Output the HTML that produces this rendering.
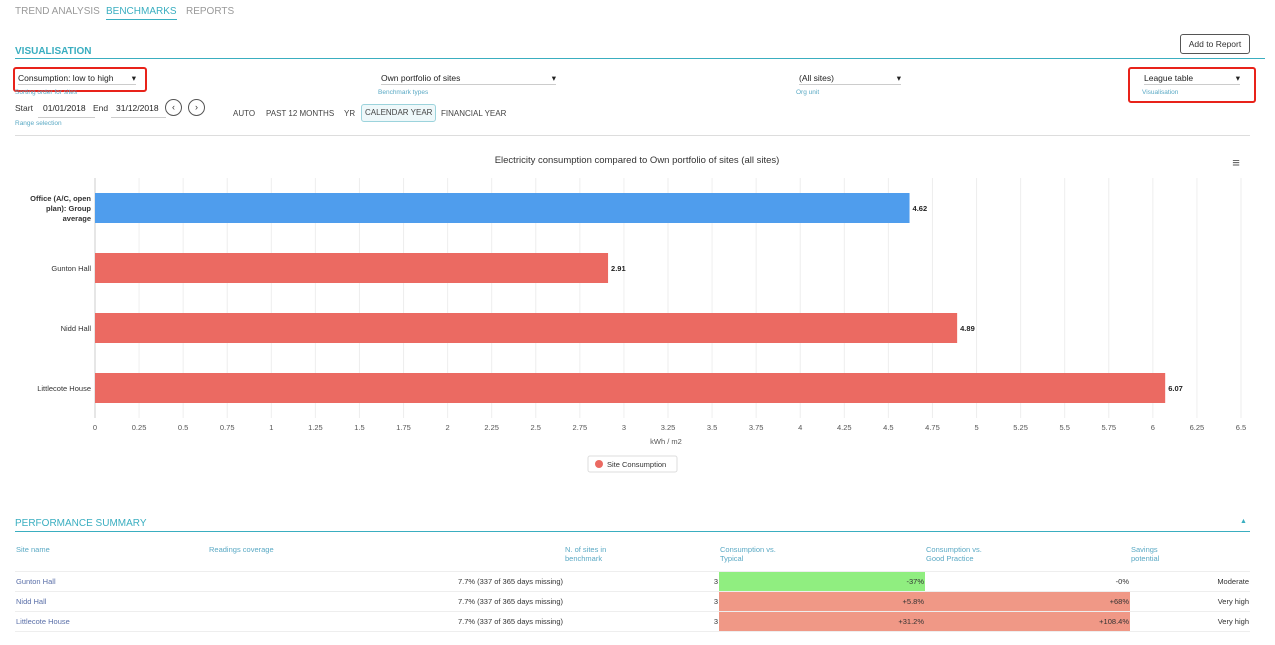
<!DOCTYPE html>
<html><head><meta charset="utf-8"><style>
body{margin:0;width:1275px;height:645px;background:#fff;font-family:"Liberation Sans",sans-serif;position:relative;overflow:hidden;color:#333}
.a{position:absolute;white-space:nowrap}
.tab{font-size:10px;color:#999;top:6px}
.sec{font-size:10px;color:#3aaec0;font-weight:bold}
.lbl{font-size:6.5px;color:#5aa9c4}
.sel{font-size:8.5px;color:#222;border-bottom:1px solid #ccc}
.red{border:2px solid #e8231a;border-radius:3px;position:absolute}
table{border-collapse:collapse;font-size:7.5px;table-layout:fixed}
td{padding:0 1px}
</style></head><body>
<div class="a tab" style="left:15px">TREND ANALYSIS</div>
<div class="a tab" style="left:106px;color:#3aaec0;border-bottom:1.5px solid #3aaec0;padding-bottom:2px">BENCHMARKS</div>
<div class="a tab" style="left:186px">REPORTS</div>
<div class="a sec" style="left:15px;top:46px">VISUALISATION</div>
<div class="a" style="left:15px;top:58px;width:1250px;border-top:1px solid #3aaec0"></div>
<div class="a" style="left:1180px;top:34px;width:68px;height:18px;border:1px solid #555;border-radius:3px;font-size:8.5px;text-align:center;line-height:18px">Add to Report</div>
<div class="red" style="left:13px;top:67px;width:130px;height:21px"></div>
<div class="a sel" style="left:18px;top:73px;width:118px">Consumption: low to high<span style="float:right">▾</span></div>
<div class="a lbl" style="left:15px;top:89px">Sorting order for sites</div>
<div class="a sel" style="left:381px;top:73px;width:175px">Own portfolio of sites<span style="float:right">▾</span></div>
<div class="a lbl" style="left:378px;top:89px">Benchmark types</div>
<div class="a sel" style="left:799px;top:73px;width:102px">(All sites)<span style="float:right">▾</span></div>
<div class="a lbl" style="left:796px;top:89px">Org unit</div>
<div class="red" style="left:1128px;top:67px;width:124px;height:32px"></div>
<div class="a sel" style="left:1144px;top:73px;width:96px">League table<span style="float:right">▾</span></div>
<div class="a lbl" style="left:1142px;top:89px">Visualisation</div>
<div class="a" style="left:15px;top:103px;font-size:8.5px">Start</div>
<div class="a sel" style="left:38px;top:103px;width:52px;padding-left:5px;padding-bottom:4px">01/01/2018</div>
<div class="a" style="left:93px;top:103px;font-size:8.5px">End</div>
<div class="a sel" style="left:111px;top:103px;width:50px;padding-left:5px;padding-bottom:4px">31/12/2018</div>
<div class="a" style="left:165px;top:99px;width:15px;height:15px;border:1px solid #555;border-radius:50%;font-size:9px;text-align:center;line-height:15px">‹</div>
<div class="a" style="left:188px;top:99px;width:15px;height:15px;border:1px solid #555;border-radius:50%;font-size:9px;text-align:center;line-height:15px">›</div>
<div class="a lbl" style="left:15px;top:120px">Range selection</div>
<div class="a" style="left:233px;top:109px;font-size:8px;color:#444">AUTO</div>
<div class="a" style="left:266px;top:109px;font-size:8px;color:#444">PAST 12 MONTHS</div>
<div class="a" style="left:344px;top:109px;font-size:8px;color:#444">YR</div>
<div class="a" style="left:361px;top:104px;height:16px;line-height:16px;padding:0 3px;border:1px solid #9cd3dc;border-radius:3px;background:#eef8fa;font-size:8px;color:#444">CALENDAR YEAR</div>
<div class="a" style="left:441px;top:109px;font-size:8px;color:#444">FINANCIAL YEAR</div>
<div class="a" style="left:15px;top:135px;width:1235px;border-top:1px solid #ddd"></div>

<svg id="chart" class="a" style="left:0;top:140px" width="1275" height="340"></svg>

<div class="a sec" style="left:15px;top:518px;font-weight:normal">PERFORMANCE SUMMARY</div>
<div class="a" style="left:1240px;top:518px;font-size:7px;color:#3aaec0">▲</div>
<div class="a" style="left:15px;top:531px;width:1235px;border-top:1px solid #3aaec0"></div>
<table class="a" style="left:15px;top:545px;width:1235px">
<colgroup><col style="width:193px"><col style="width:356px"><col style="width:155px"><col style="width:206px"><col style="width:205px"><col></colgroup>
<tr style="color:#5aa9c4;height:26px;vertical-align:top;border-bottom:1px solid #eee">
<td>Site name</td><td>Readings coverage</td><td>N. of sites in<br>benchmark</td><td>Consumption vs.<br>Typical</td><td>Consumption vs.<br>Good Practice</td><td>Savings<br>potential</td></tr>
<tr style="height:20px;border-bottom:1px solid #eee"><td style="color:#5a6fa8">Gunton Hall</td><td style="text-align:right">7.7% (337 of 365 days missing)</td><td style="text-align:right">3</td><td style="text-align:right;background:#90ee80">-37%</td><td style="text-align:right">-0%</td><td style="text-align:right">Moderate</td></tr>
<tr style="height:20px;border-bottom:1px solid #eee"><td style="color:#5a6fa8">Nidd Hall</td><td style="text-align:right">7.7% (337 of 365 days missing)</td><td style="text-align:right">3</td><td style="text-align:right;background:#f09886">+5.8%</td><td style="text-align:right;background:#f09886">+68%</td><td style="text-align:right">Very high</td></tr>
<tr style="height:20px;border-bottom:1px solid #eee"><td style="color:#5a6fa8">Littlecote House</td><td style="text-align:right">7.7% (337 of 365 days missing)</td><td style="text-align:right">3</td><td style="text-align:right;background:#f09886">+31.2%</td><td style="text-align:right;background:#f09886">+108.4%</td><td style="text-align:right">Very high</td></tr>
</table>
<script>
const categories=[["Office (A/C, open","plan): Group","average"],["Gunton Hall"],["Nidd Hall"],["Littlecote House"]];
const values=[4.62,2.91,4.89,6.07];
const colors=["#4f9ded","#eb6a62","#eb6a62","#eb6a62"];
const ticks=[0,0.25,0.5,0.75,1,1.25,1.5,1.75,2,2.25,2.5,2.75,3,3.25,3.5,3.75,4,4.25,4.5,4.75,5,5.25,5.5,5.75,6,6.25,6.5];
const svg=document.getElementById('chart');const NS="http://www.w3.org/2000/svg";
const x0=95,x1=1241,plotTop=38,band=60;
const xs=v=>x0+(x1-x0)*v/6.5;const yc=i=>plotTop+band*i+band/2;
function mk(t,a,txt){const e=document.createElementNS(NS,t);for(const k in a)e.setAttribute(k,a[k]);if(txt!=null)e.textContent=txt;svg.appendChild(e);return e;}
let e=mk('text',{x:637,y:23,'text-anchor':'middle','font-size':9.5,fill:'#333'},'Electricity consumption compared to Own portfolio of sites (all sites)');

e=mk('text',{x:1236,y:27,'text-anchor':'middle','font-size':13,fill:'#555'},'≡');

ticks.forEach(t=>{e=mk('line',{x1:xs(t),x2:xs(t),y1:plotTop,y2:plotTop+band*4,stroke:'#eee'});

e=mk('text',{x:xs(t),y:plotTop+band*4+12,'text-anchor':'middle','font-size':7.5,fill:'#555'},String(t));
});
mk('line',{x1:x0,x2:x0,y1:plotTop,y2:plotTop+band*4,stroke:'#ccc'});
values.forEach((v,i)=>{e=mk('rect',{x:x0,y:yc(i)-15,width:xs(v)-x0,height:30,fill:colors[i]});

e=mk('text',{x:xs(v)+3,y:yc(i)+3,'font-size':7.5,'font-weight':'bold',fill:'#222'},v.toFixed(2));

const lines=categories[i];lines.forEach((l,j)=>{e=mk('text',{x:91,y:yc(i)+3+(j-(lines.length-1)/2)*10,'text-anchor':'end','font-size':7.5,'font-weight':i==0?'bold':'normal',fill:'#333'},l);
});});
e=mk('text',{x:666,y:304,'text-anchor':'middle','font-size':7.5,fill:'#555'},'kWh / m2');

e=mk('rect',{x:588,y:316,width:89,height:16,rx:2,fill:'#fff',stroke:'#ddd'});

e=mk('circle',{cx:599,cy:324,r:4,fill:'#eb6a62'});

e=mk('text',{x:607,y:327,'font-size':7.5,fill:'#333'},'Site Consumption');

</script>
</body></html>
